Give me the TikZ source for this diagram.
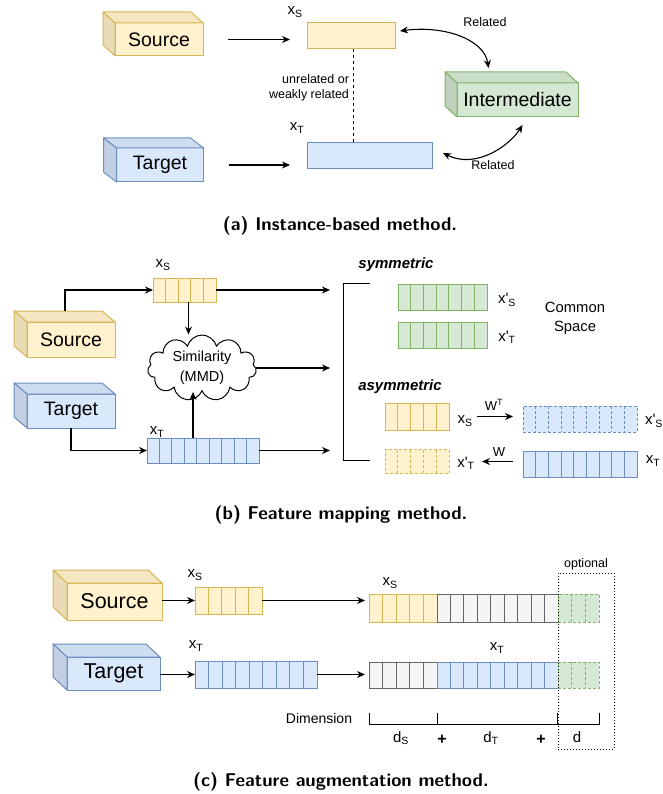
\documentclass[tikz,border=0pt]{standalone}
\usepackage{fontspec}
\setmainfont{Liberation Sans}
\usetikzlibrary{arrows.meta,calc,positioning,shapes.symbols}

\definecolor{yfill}{HTML}{FFF2CC}
\definecolor{yline}{HTML}{D6B656}
\definecolor{ytop}{HTML}{F3E6C0}
\definecolor{yside}{HTML}{E8DBB5}
\definecolor{bfill}{HTML}{DAE8FC}
\definecolor{bline}{HTML}{6C8EBF}
\definecolor{btop}{HTML}{CEDCF0}
\definecolor{bside}{HTML}{C3D0E4}
\definecolor{gfill}{HTML}{D5E8D4}
\definecolor{gline}{HTML}{82B366}
\definecolor{gtop}{HTML}{CADDC9}
\definecolor{gside}{HTML}{BFD1BE}
\definecolor{kfill}{HTML}{F5F5F5}
\definecolor{kline}{HTML}{666666}

% side faces of a 3d box: node, depth x, depth y, colour prefix
\newcommand{\cubefaces}[4]{%
  \filldraw[draw=#4line, fill=#4top, line width=1pt, line join=round]
    (#1.north west) -- ++(-#2,-#3) -- ([shift={(-#2,-#3)}]#1.north east) -- (#1.north east) -- cycle;
  \filldraw[draw=#4line, fill=#4side, line width=1pt, line join=round]
    (#1.north west) -- ++(-#2,-#3) -- ([shift={(-#2,-#3)}]#1.south west) -- (#1.south west) -- cycle;
}
% cell walls of a feature vector: node, number of cells, line style
\newcommand{\cellwalls}[3]{%
  \foreach \k in {2,...,#2}
    \draw[#3] ($(#1.north west)!{(\k-1)/#2}!(#1.north east)$) -- ($(#1.south west)!{(\k-1)/#2}!(#1.south east)$);
}
\newcommand{\xp}{x\textquotesingle}

\begin{document}
\begin{tikzpicture}[x=1pt, y=-1pt, >={Stealth[length=8pt,width=7pt]}]
\tikzset{
  cube/.style={draw, line width=1pt, inner sep=0pt, outer sep=0pt, font=\fontsize{19.5}{22}\selectfont},
  cubeC/.style={cube, font=\fontsize{21.5}{24}\selectfont},
  ycube/.style={draw=yline, fill=yfill},
  bcube/.style={draw=bline, fill=bfill},
  gcube/.style={draw=gline, fill=gfill},
  vec/.style={draw, line width=1pt, inner sep=0pt, outer sep=0pt, minimum height=26pt},
  yvec/.style={vec, draw=yline, fill=yfill},
  bvec/.style={vec, draw=bline, fill=bfill},
  gvec/.style={vec, draw=gline, fill=gfill},
  kvec/.style={vec, draw=kline, fill=kfill},
  dashline/.style={dash pattern=on 3pt off 2pt},
  lbl/.style={font=\fontsize{15}{17}\selectfont, inner sep=0pt},
  note/.style={font=\fontsize{12.5}{15}\selectfont, inner sep=0pt, align=center},
  arr/.style={->, line width=1.1pt},
  dblarr/.style={<->, line width=1.1pt},
  caption/.style={font=\sffamily\bfseries\fontsize{18.5}{21}\selectfont, inner sep=0pt}
}
\useasboundingbox (0,0) rectangle (662,794);

% ---------------- (a) instance based
\node[cube, ycube, minimum width=88pt, minimum height=33pt] (srcA) at (159,39.5) {Source};
\cubefaces{srcA}{12}{11}{y}
\node[cube, bcube, minimum width=87pt, minimum height=34pt] (tgtA) at (160,165) {Target};
\cubefaces{tgtA}{13}{10}{b}
\node[cube, gcube, minimum width=121pt, minimum height=34pt] (midA) at (517.5,100) {Intermediate};
\cubefaces{midA}{12}{11}{g}

\node[vec, draw=yline, fill=yfill, minimum width=88pt] (xsA) at (351,36) {};
\node[vec, draw=bline, fill=bfill, minimum width=125pt] (xtA) at (369.5,156) {};
\node[lbl] (xsAl) at (295,12) {x\textsubscript{S}};
\node[lbl] (xtAl) at (297,128) {x\textsubscript{T}};

\draw[arr, shorten <=25pt, shorten >=17pt] (srcA.east) -- (srcA.east -| xsA.west);
\draw[arr, shorten <=25pt, shorten >=17pt] (tgtA.east) -- (tgtA.east -| xtA.west);
\draw[line width=1pt, dashed] ([xshift=2pt]xsA.south) -- ([xshift=2pt]xsA.south |- xtA.north);
\node[note, align=right] (unrelA) at (309,88) {unrelated or\\weakly related};

\draw[dblarr] ([shift={(5,-5)}]xsA.east) .. controls +(45,-6) and +(-4,-28) .. ([shift={(-29,-15)}]midA.north);
\draw[dblarr] ([shift={(11,-3)}]xtA.east) .. controls +(32,16) and +(-14,22) .. ([shift={(5,8)}]midA.south);
\node[note] (relA1) at (485,22) {Related};
\node[note] (relA2) at (493,165) {Related};

\node[caption] (capA) at (340,226) {(a) Instance-based method.};

% ---------------- (b) feature mapping
\node[cube, ycube, minimum width=88pt, minimum height=35pt] (srcB) at (71,339.5) {Source};
\cubefaces{srcB}{13}{11}{y}
\node[cube, bcube, minimum width=88pt, minimum height=34pt] (tgtB) at (71,411) {Target};
\cubefaces{tgtB}{13}{11}{b}

\node[yvec, minimum width=63pt, minimum height=24pt] (xsB) at (184.5,290) {};
\cellwalls{xsB}{5}{draw=yline, line width=1pt}
\node[bvec, minimum width=112pt, minimum height=25pt] (xtB) at (203,450.5) {};
\cellwalls{xtB}{9}{draw=bline, line width=1pt}
\node[lbl] (xsBl) at (163,265) {x\textsubscript{S}};
\node[lbl] (xtBl) at (157,432) {x\textsubscript{T}};

\node[cloud, draw, fill=white, line width=1pt, cloud puffs=11, aspect=2, minimum width=109pt, minimum height=57pt,
  inner sep=0pt, align=center, font=\fontsize{14.5}{20}\selectfont] (simB) at (202,368) {Similarity\\(MMD)};

\draw[arr] ([shift={(-6,-11)}]srcB.north) |- (xsB.west);
\draw[arr] (tgtB.south) |- (xtB.west);
\draw[arr] ([xshift=4pt]xsB.south) -- ([xshift=4pt]xsB.south |- simB.north);
\draw[arr] ([xshift=-10pt]xtB.north) -- ([xshift=-10pt]xtB.north |- simB.south);

\coordinate (brkB) at (330,370);
\draw[arr] (xsB.east) -- (xsB.east -| brkB);
\draw[arr] (simB.east) -- (simB.east -| brkB);
\draw[arr] (xtB.east) -- (xtB.east -| brkB);
\draw[line width=1pt] (370,283) -- (343,283) -- (343,460) -- (370,460);

\node[font=\bfseries\itshape\fontsize{15}{17}\selectfont, inner sep=0pt] (symB) at (396,265) {symmetric};
\node[gvec, minimum width=89pt] (symS) at (442.5,297.5) {};
\cellwalls{symS}{7}{draw=gline, line width=1pt}
\node[gvec, minimum width=89pt] (symT) at (442.5,335.5) {};
\cellwalls{symT}{7}{draw=gline, line width=1pt}
\node[lbl] (symSl) at (507,300) {\xp\textsubscript{S}};
\node[lbl] (symTl) at (507,337) {\xp\textsubscript{T}};
\node[align=center, inner sep=0pt, font=\fontsize{14.8}{19}\selectfont] (comB) at (575,318) {Common\\Space};

\node[font=\bfseries\itshape\fontsize{15}{17}\selectfont, inner sep=0pt] (asymB) at (400,387) {asymmetric};
\node[yvec, minimum width=64pt, minimum height=27pt] (asS) at (417,416.5) {};
\cellwalls{asS}{5}{draw=yline, line width=1pt}
\node[bvec, dashline, minimum width=114pt] (asSp) at (580,419) {};
\cellwalls{asSp}{9}{draw=bline, line width=1pt, dashline}
\node[yvec, dashline, minimum width=64pt, minimum height=24pt] (asTp) at (417,461.5) {};
\cellwalls{asTp}{5}{draw=yline, line width=1pt, dashline}
\node[bvec, minimum width=114pt] (asT) at (580,464) {};
\cellwalls{asT}{9}{draw=bline, line width=1pt}

\node[lbl] (asSl) at (465,421) {x\textsubscript{S}};
\node[lbl] (asSpl) at (654,421) {\xp\textsubscript{S}};
\node[lbl] (asTpl) at (466,463) {\xp\textsubscript{T}};
\node[lbl] (asTl) at (653,461) {x\textsubscript{T}};

\draw[arr, shorten <=28pt, shorten >=10pt] (asS.east) -- (asS.east -| asSp.west);
\node[lbl, font=\fontsize{13}{15}\selectfont] (wtB) at (494,405) {W\textsuperscript{T}};
\draw[arr, shorten <=10pt, shorten >=33pt] (asTp.east -| asT.west) -- (asTp.east);
\node[lbl, font=\fontsize{13}{15}\selectfont] (wB) at (499,452) {W};

\node[caption] (capB) at (341,515) {(b) Feature mapping method.};

% ---------------- (c) feature augmentation
\node[cubeC, ycube, minimum width=95pt, minimum height=37pt] (srcC) at (114.5,601.5) {Source};
\cubefaces{srcC}{14}{13}{y}
\node[cubeC, bcube, minimum width=93pt, minimum height=33pt] (tgtC) at (113.5,673.5) {Target};
\cubefaces{tgtC}{14}{13}{b}

\node[yvec, minimum width=67pt, minimum height=27pt] (xsC) at (228.5,600.5) {};
\cellwalls{xsC}{5}{draw=yline, line width=1pt}
\node[bvec, minimum width=122pt, minimum height=27pt] (xtC) at (256,674.5) {};
\cellwalls{xtC}{9}{draw=bline, line width=1pt}
\node[lbl] (xsCl) at (195,575) {x\textsubscript{S}};
\node[lbl] (xtCl) at (196,646) {x\textsubscript{T}};

\draw[arr] (srcC.east |- xsC.west) -- (xsC.west);
\draw[arr] (tgtC.east |- xtC.west) -- (xtC.west);

\node[yvec, minimum width=68pt, minimum height=28pt] (augS1) at (403,608) {};
\cellwalls{augS1}{5}{draw=yline, line width=1pt}
\node[kvec, minimum width=121pt, minimum height=28pt] (augS2) at (497.5,608) {};
\cellwalls{augS2}{9}{draw=kline, line width=1pt}
\node[gvec, dashline, minimum width=41pt, minimum height=28pt] (augS3) at (578.5,608) {};
\cellwalls{augS3}{3}{draw=gline, line width=1pt, dashline}
\node[kvec, minimum width=68pt] (augT1) at (403,675) {};
\cellwalls{augT1}{5}{draw=kline, line width=1pt}
\node[bvec, minimum width=121pt] (augT2) at (497.5,675) {};
\cellwalls{augT2}{9}{draw=bline, line width=1pt}
\node[gvec, dashline, minimum width=41pt] (augT3) at (578.5,675) {};
\cellwalls{augT3}{3}{draw=gline, line width=1pt, dashline}
\node[lbl] (augSl) at (390,583) {x\textsubscript{S}};
\node[lbl] (augTl) at (497,648) {x\textsubscript{T}};

\draw[arr, shorten >=4pt] (xsC.east) -- (xsC.east -| augS1.west);
\draw[arr, shorten >=4pt] (xtC.east) -- (xtC.east -| augT1.west);

% dimension bracket
\draw[line width=1pt] (369,713) -- (369,724) -- (599,724) -- (599,713);
\draw[line width=1pt] (437,713) -- (437,724);
\draw[line width=1pt] (557,713) -- (557,724);
\node[font=\fontsize{14}{16}\selectfont, inner sep=0pt] (dimC) at (319,718) {Dimension};
\node[lbl] (dsC) at (401,738) {d\textsubscript{S}};
\node[font=\bfseries\fontsize{16}{18}\selectfont, inner sep=0pt] (plus1) at (442,740) {+};
\node[lbl] (dtC) at (491,738) {d\textsubscript{T}};
\node[font=\bfseries\fontsize{16}{18}\selectfont, inner sep=0pt] (plus2) at (541,740) {+};
\node[lbl] (dC) at (577,737) {d};

\node[draw, dotted, line width=1pt, minimum width=56pt, minimum height=176pt, inner sep=0pt] (optC) at (586,661) {};
\node[note, anchor=south, inner sep=2pt] (optl) at (optC.north) {optional};

\node[caption] (capC) at (341,782) {(c) Feature augmentation method.};
\end{tikzpicture}
\end{document}
